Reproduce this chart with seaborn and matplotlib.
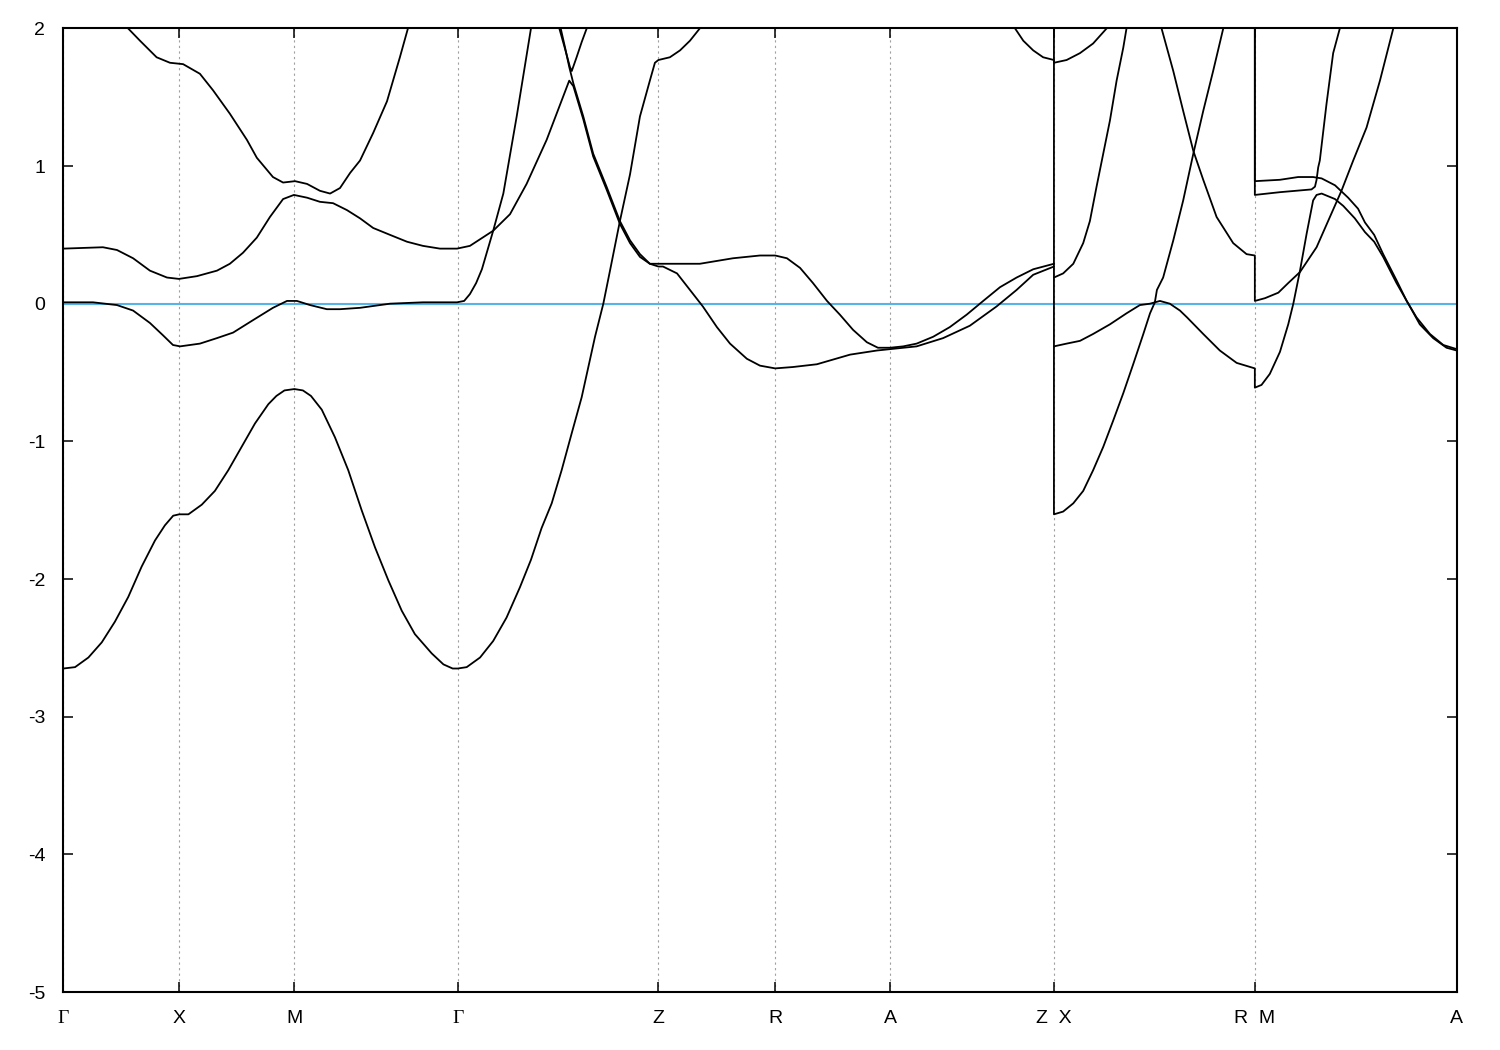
import matplotlib
matplotlib.use("Agg")
import pandas as pd
import seaborn as sns
import matplotlib.pyplot as plt

# High-symmetry points along the k-path
kpath = [0.000, 0.503, 1.003, 1.712, 2.583, 3.090, 3.589, 4.300, 5.172, 6.048]
klabels = ["Γ", "X", "M", "Γ", "Z", "R", "A", "Z  X", "R  M", "A"]
energy_ticks = [-5, -4, -3, -2, -1, 0, 1, 2]
fermi_level = 0.0

# Bands as (k, E) points
line_a1 = [(0.000, -2.65), (0.051, -2.64), (0.109, -2.57), (0.167, -2.46), (0.224, -2.31),
           (0.282, -2.13), (0.340, -1.91), (0.398, -1.72), (0.441, -1.61), (0.477, -1.54),
           (0.503, -1.53), (0.543, -1.53), (0.601, -1.46), (0.658, -1.36), (0.716, -1.21),
           (0.774, -1.04), (0.832, -0.87), (0.890, -0.73), (0.925, -0.67), (0.960, -0.63),
           (1.003, -0.62), (1.040, -0.63), (1.075, -0.67), (1.122, -0.77), (1.179, -0.97),
           (1.237, -1.21), (1.295, -1.50), (1.353, -1.77), (1.411, -2.01), (1.469, -2.23),
           (1.526, -2.40), (1.599, -2.54), (1.650, -2.62), (1.690, -2.65), (1.712, -2.65),
           (1.751, -2.64), (1.809, -2.57), (1.866, -2.45), (1.924, -2.28), (1.982, -2.06),
           (2.030, -1.86), (2.076, -1.63), (2.120, -1.45), (2.163, -1.21), (2.207, -0.94),
           (2.250, -0.68), (2.279, -0.46), (2.308, -0.24), (2.344, 0.00), (2.373, 0.24),
           (2.416, 0.60), (2.460, 0.94), (2.503, 1.36), (2.546, 1.62), (2.568, 1.75),
           (2.583, 1.77), (2.633, 1.79), (2.677, 1.84), (2.720, 1.91), (2.763, 2.00),
           (2.785, 2.06)]

line_b = [(0.000, 0.01), (0.129, 0.01), (0.233, -0.01), (0.303, -0.05), (0.376, -0.14),
          (0.433, -0.23), (0.476, -0.30), (0.507, -0.31), (0.593, -0.29), (0.667, -0.25),
          (0.737, -0.21), (0.823, -0.12), (0.910, -0.03), (0.971, 0.02), (1.014, 0.02),
          (1.071, -0.01), (1.144, -0.04), (1.201, -0.04), (1.288, -0.03), (1.418, 0.00),
          (1.561, 0.01), (1.709, 0.01), (1.740, 0.02), (1.765, 0.07), (1.792, 0.15),
          (1.817, 0.25), (1.866, 0.53), (1.910, 0.80), (1.968, 1.36), (2.030, 2.00),
          (2.036, 2.06)]

line_c = [(0.000, 0.40), (0.172, 0.41), (0.233, 0.39), (0.303, 0.33), (0.376, 0.24),
          (0.450, 0.19), (0.502, 0.18), (0.580, 0.20), (0.667, 0.24), (0.723, 0.29),
          (0.780, 0.37), (0.840, 0.48), (0.897, 0.63), (0.954, 0.76), (1.001, 0.79),
          (1.058, 0.77), (1.114, 0.74), (1.171, 0.73), (1.231, 0.68), (1.288, 0.62),
          (1.345, 0.55), (1.418, 0.50), (1.492, 0.45), (1.561, 0.42), (1.635, 0.40),
          (1.709, 0.40), (1.765, 0.42), (1.866, 0.53), (1.939, 0.65), (2.011, 0.87),
          (2.098, 1.19), (2.196, 1.62), (2.214, 1.58), (2.257, 1.34), (2.300, 1.07),
          (2.358, 0.83), (2.416, 0.58), (2.460, 0.44), (2.503, 0.34), (2.546, 0.29),
          (2.583, 0.29), (2.677, 0.29), (2.763, 0.29), (2.907, 0.33), (3.024, 0.35),
          (3.090, 0.35), (3.141, 0.33), (3.198, 0.26), (3.254, 0.15), (3.315, 0.02),
          (3.371, -0.08), (3.428, -0.19), (3.488, -0.28), (3.536, -0.32), (3.589, -0.32),
          (3.646, -0.31), (3.704, -0.29), (3.776, -0.24), (3.848, -0.17), (3.921, -0.08),
          (3.993, 0.02), (4.066, 0.12), (4.138, 0.19), (4.210, 0.25), (4.300, 0.29)]

line_d = [(0.268, 2.04), (0.281, 2.00), (0.333, 1.91), (0.405, 1.79), (0.463, 1.75),
          (0.520, 1.74), (0.593, 1.67), (0.650, 1.55), (0.723, 1.38), (0.797, 1.19),
          (0.840, 1.06), (0.910, 0.92), (0.954, 0.88), (1.006, 0.89), (1.058, 0.87),
          (1.114, 0.82), (1.158, 0.80), (1.201, 0.84), (1.245, 0.95), (1.288, 1.04),
          (1.345, 1.24), (1.405, 1.47), (1.461, 1.79), (1.496, 2.00), (1.500, 2.04)]

line_e = [(2.157, 2.04), (2.159, 2.00), (2.178, 1.86), (2.196, 1.72), (2.214, 1.60),
          (2.257, 1.36), (2.300, 1.09), (2.358, 0.85), (2.416, 0.60), (2.460, 0.46),
          (2.503, 0.36), (2.546, 0.29), (2.583, 0.27), (2.603, 0.27), (2.664, 0.22),
          (2.720, 0.10), (2.776, -0.02), (2.837, -0.17), (2.894, -0.29), (2.967, -0.40),
          (3.024, -0.45), (3.090, -0.47), (3.167, -0.46), (3.271, -0.44), (3.415, -0.37),
          (3.532, -0.34), (3.589, -0.33), (3.704, -0.31), (3.819, -0.25), (3.935, -0.16),
          (4.051, -0.02), (4.138, 0.10), (4.210, 0.21), (4.300, 0.27)]

line_f = [(2.150, 2.04), (2.153, 2.00), (2.178, 1.85), (2.199, 1.72), (2.207, 1.69),
          (2.228, 1.79), (2.250, 1.90), (2.272, 2.00), (2.275, 2.04)]

line_a2 = [(4.113, 2.05), (4.131, 2.00), (4.167, 1.91), (4.210, 1.84), (4.253, 1.79),
           (4.300, 1.77), (4.300, -1.53), (4.340, -1.51), (4.384, -1.45), (4.427, -1.36),
           (4.470, -1.21), (4.514, -1.04), (4.557, -0.85), (4.601, -0.65), (4.644, -0.44),
           (4.688, -0.22), (4.717, -0.07), (4.738, 0.01), (4.747, 0.10), (4.774, 0.19),
           (4.818, 0.46), (4.861, 0.75), (4.905, 1.09), (4.948, 1.40), (4.991, 1.69),
           (5.035, 2.00), (5.042, 2.06)]

line_h = [(4.300, 2.06), (4.300, 1.75), (4.355, 1.77), (4.413, 1.82), (4.470, 1.89),
          (4.529, 2.00), (4.539, 2.06)]

line_i = [(4.300, 0.19), (4.340, 0.22), (4.384, 0.29), (4.427, 0.44), (4.456, 0.60),
          (4.485, 0.85), (4.514, 1.09), (4.543, 1.33), (4.572, 1.62), (4.601, 1.86),
          (4.615, 2.00), (4.619, 2.05)]

line_j = [(4.764, 2.05), (4.767, 2.00), (4.818, 1.69), (4.861, 1.40), (4.905, 1.11),
          (4.948, 0.90), (5.006, 0.63), (5.078, 0.44), (5.136, 0.36), (5.172, 0.35),
          (5.172, 0.02), (5.216, 0.04), (5.274, 0.08), (5.317, 0.15), (5.368, 0.23),
          (5.440, 0.41), (5.490, 0.60), (5.548, 0.82), (5.599, 1.04), (5.657, 1.28),
          (5.715, 1.62), (5.773, 2.00), (5.778, 2.04)]

line_k = [(4.300, -0.31), (4.355, -0.29), (4.413, -0.27), (4.470, -0.22), (4.543, -0.15),
          (4.615, -0.07), (4.673, -0.01), (4.717, 0.00), (4.760, 0.02), (4.803, 0.00),
          (4.847, -0.05), (4.878, -0.10), (4.948, -0.22), (5.020, -0.34), (5.093, -0.43),
          (5.172, -0.47), (5.172, -0.61), (5.201, -0.59), (5.237, -0.51), (5.281, -0.35),
          (5.317, -0.15), (5.339, 0.00), (5.368, 0.24), (5.397, 0.51), (5.425, 0.75),
          (5.440, 0.79), (5.462, 0.80), (5.520, 0.76), (5.556, 0.71), (5.606, 0.62),
          (5.650, 0.52), (5.690, 0.45), (5.729, 0.34), (5.787, 0.15), (5.845, -0.02),
          (5.888, -0.15), (5.946, -0.25), (6.004, -0.32), (6.048, -0.34)]

line_l = [(5.172, 2.06), (5.172, 0.89), (5.281, 0.90), (5.360, 0.92), (5.425, 0.92),
          (5.462, 0.91), (5.520, 0.86), (5.577, 0.77), (5.620, 0.69), (5.650, 0.59),
          (5.690, 0.50), (5.729, 0.36), (5.787, 0.17), (5.831, 0.02), (5.874, -0.10),
          (5.932, -0.22), (5.990, -0.30), (6.048, -0.33)]

line_m = [(5.172, 2.06), (5.172, 0.79), (5.281, 0.81), (5.418, 0.83), (5.433, 0.85),
          (5.440, 0.90), (5.447, 0.99), (5.454, 1.04), (5.483, 1.45), (5.512, 1.82),
          (5.541, 2.00), (5.545, 2.05)]

lines = {"a1": line_a1, "b": line_b, "c": line_c, "d": line_d, "e": line_e,
         "f": line_f, "a2": line_a2, "h": line_h, "i": line_i, "j": line_j,
         "k": line_k, "l": line_l, "m": line_m}

df = pd.DataFrame([(name, k, e) for name, pts in lines.items() for k, e in pts],
                  columns=["line", "k", "E"])

sns.set_style("ticks")
plt.rcParams["font.family"] = ["Liberation Sans", "DejaVu Sans"]
plt.rcParams["axes.unicode_minus"] = False

fig = plt.figure(figsize=(15, 10.5), dpi=100)
ax = fig.add_axes([0.0422, 0.0552, 0.9289, 0.9178])

ax.axhline(fermi_level, color="#56b4e9", lw=1.5, zorder=1)
sns.lineplot(data=df, x="k", y="E", units="line", estimator=None, sort=False,
             color="black", lw=1.3, legend=False, ax=ax, zorder=3)

ax.set_xlim(kpath[0], kpath[-1])
ax.set_ylim(-5, 2)
ax.set_xticks(kpath)
ax.set_xticklabels(klabels)
ax.set_yticks(energy_ticks)
ax.set_xlabel("")
ax.set_ylabel("")
ax.grid(axis="x", color="#a0a0a0", ls=(0, (2, 3)), lw=0.8)
ax.tick_params(direction="in", top=True, right=True, length=7, width=1.1,
               labelsize=14, pad=13, colors="black")
for lab in ax.get_xticklabels():
    if lab.get_text() == "Γ":
        lab.set_fontfamily("Liberation Serif")
for sp in ax.spines.values():
    sp.set_linewidth(1.5)
    sp.set_color("black")

fig.savefig("out.png", dpi=100)
